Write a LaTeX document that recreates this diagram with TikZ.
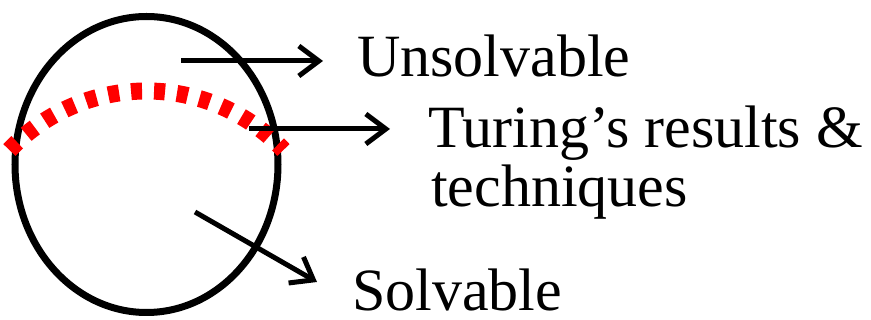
\documentclass[tikz,border=0pt]{standalone}
\usepackage{fontspec}
\setmainfont{Liberation Serif}
\usepackage{tikz}
\usetikzlibrary{arrows.meta}
\definecolor{cutred}{HTML}{FF0000}

\begin{document}
\begin{tikzpicture}[x=1pt,y=-1pt,font=\fontsize{60}{59}\selectfont,
    pointer/.style={line width=5pt,-{Straight Barb[length=20pt,width=30pt]}},
    label/.style={anchor=base west,inner sep=0pt}]
        \useasboundingbox (0,0) rectangle (871,320);
        \draw[line width=7pt] (146.5,164.5) ellipse [x radius=131.5, y radius=148];
        \draw[cutred,line width=17pt,dash pattern=on 11pt off 12pt]
          (9.4,150) arc [start angle=223.4, end angle=316.6, radius=188.6];
        \node[label] (unsolv) at (357,77) {Unsolvable};
        \node[label] (turing) at (428,148) {Turing’s results \&};
        \node[label] (tech) at (431,207) {techniques};
        \node[label] (solv) at (352,311) {Solvable};
        \coordinate (u0) at (181,61); \coordinate (u1) at (323,61);
        \coordinate (t0) at (249,129); \coordinate (t1) at (390,129);
        \coordinate (s0) at (195,212); \coordinate (s1) at (317,282);
        \draw[pointer] (u0) -- (u1);
        \draw[pointer] (t0) -- (t1);
        \draw[pointer] (s0) -- (s1);
      \end{tikzpicture}
\end{document}
